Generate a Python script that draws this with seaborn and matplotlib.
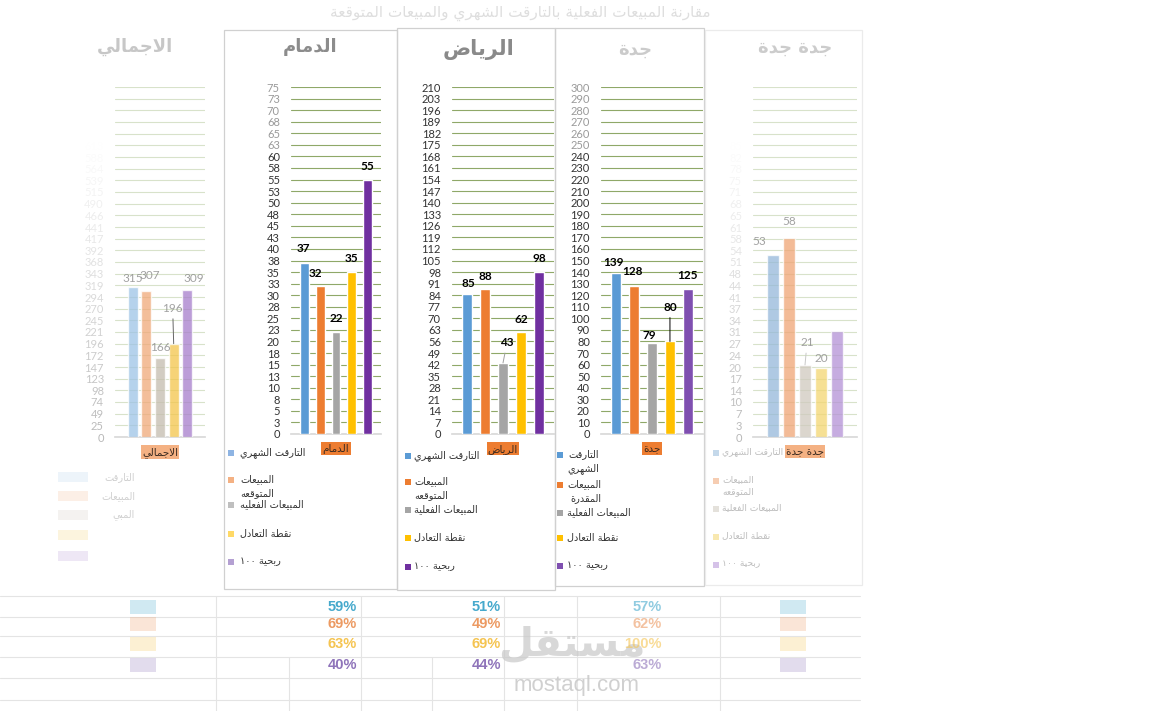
import re
import numpy as np
import pandas as pd
import matplotlib
matplotlib.use('Agg')
from matplotlib import pyplot as plt
from matplotlib.patches import Rectangle
import seaborn as sns

sns.set_theme(style='white')
plt.rcParams['font.family'] = ['Lato', 'DejaVu Sans']

# ---- data ----
series = ['التارقت الشهري', 'المبيعات المتوقعه', 'المبيعات الفعلية', 'نقطة التعادل', 'ربحية ١٠٠']

dammam_vals = [37, 32, 22, 35, 55]
riyadh_vals = [85, 88, 43, 62, 98]
jeddah_vals = [139, 128, 79, 80, 125]
total_vals = [315, 307, 166, 196, 309]
side_vals = [53, 58, 21, 20, 31]

dammam_legend = ['التارقت الشهري', 'المبيعات\nالمتوقعه', 'المبيعات الفعليه', 'نقطة التعادل', 'ربحية ١٠٠']
riyadh_legend = ['التارقت الشهري', 'المبيعات\nالمتوقعه', 'المبيعات الفعلية', 'نقطة التعادل', 'ربحية ١٠٠']
jeddah_legend = ['التارقت\nالشهري', 'المبيعات\nالمقدرة', 'المبيعات الفعلية', 'نقطة التعادل', 'ربحية ١٠٠']
side_legend = ['التارقت الشهري', 'المبيعات\nالمتوقعه', 'المبيعات الفعلية', 'نقطة التعادل', 'ربحية ١٠٠']
total_legend = ['التارقت', 'المبيعات', 'المبي']

dammam_pct = ['59%', '69%', '63%', '40%']
riyadh_pct = ['51%', '49%', '69%', '44%']
jeddah_pct = ['57%', '62%', '100%', '63%']

W, H = 1152, 711

# ---- simple arabic shaping (matplotlib has no bidi / joining) ----
AR_FORMS = {
    'ء': (0xFE80, 1), 'آ': (0xFE81, 2), 'أ': (0xFE83, 2), 'ؤ': (0xFE85, 2), 'إ': (0xFE87, 2),
    'ئ': (0xFE89, 4), 'ا': (0xFE8D, 2), 'ب': (0xFE8F, 4), 'ة': (0xFE93, 2), 'ت': (0xFE95, 4),
    'ث': (0xFE99, 4), 'ج': (0xFE9D, 4), 'ح': (0xFEA1, 4), 'خ': (0xFEA5, 4), 'د': (0xFEA9, 2),
    'ذ': (0xFEAB, 2), 'ر': (0xFEAD, 2), 'ز': (0xFEAF, 2), 'س': (0xFEB1, 4), 'ش': (0xFEB5, 4),
    'ص': (0xFEB9, 4), 'ض': (0xFEBD, 4), 'ط': (0xFEC1, 4), 'ظ': (0xFEC5, 4), 'ع': (0xFEC9, 4),
    'غ': (0xFECD, 4), 'ف': (0xFED1, 4), 'ق': (0xFED5, 4), 'ك': (0xFED9, 4), 'ل': (0xFEDD, 4),
    'م': (0xFEE1, 4), 'ن': (0xFEE5, 4), 'ه': (0xFEE9, 4), 'و': (0xFEED, 2), 'ى': (0xFEEF, 2),
    'ي': (0xFEF1, 4),
}


def shape(txt):
    out = []
    i = 0
    while i < len(txt):
        c = txt[i]
        if c not in AR_FORMS:
            out.append(c)
            i += 1
            continue
        prev = txt[i - 1] if i > 0 else ''
        jp = prev in AR_FORMS and AR_FORMS[prev][1] == 4
        if c == 'ل' and i + 1 < len(txt) and txt[i + 1] == 'ا':
            out.append(chr(0xFEFC if jp else 0xFEFB))
            i += 2
            continue
        nxt = txt[i + 1] if i + 1 < len(txt) else ''
        base, k = AR_FORMS[c]
        jn = k == 4 and nxt in AR_FORMS
        if k == 4:
            idx = {(0, 0): 0, (1, 0): 1, (0, 1): 2, (1, 1): 3}[(int(jp), int(jn))]
        elif k == 2:
            idx = 1 if jp else 0
        else:
            idx = 0
        out.append(chr(base + idx))
        i += 1
    return ''.join(out)


def ar(txt):
    lines = []
    for line in txt.split('\n'):
        s = shape(line)
        parts = re.findall(r'[0-9\u0660-\u0669%]+|[^0-9\u0660-\u0669%]+', s)
        lines.append(''.join(p if re.match(r'[0-9\u0660-\u0669]', p) else p[::-1]
                             for p in reversed(parts)))
    return '\n'.join(lines)


fig = plt.figure(figsize=(W / 100, H / 100), dpi=100)
fig.patch.set_facecolor('white')


def fx(px):
    return px / W


def fy(py):
    return 1 - py / H


def hline(y, x0, x1, color='#E4E4E4', lw=0.8):
    fig.add_artist(plt.Line2D([fx(x0), fx(x1)], [fy(y), fy(y)], color=color, lw=lw, zorder=0))


def vline(x, y0, y1, color='#E4E4E4', lw=0.8):
    fig.add_artist(plt.Line2D([fx(x), fx(x)], [fy(y0), fy(y1)], color=color, lw=lw, zorder=0))


# spreadsheet cell lines at the bottom
for y in [596, 617, 636, 657, 678, 700]:
    hline(y, 0, 860)
for x in [216, 361, 504, 577, 720]:
    vline(x, 596, 711)
for x in [289, 432]:
    vline(x, 657, 711)

# panel frames
for (x0, y0, x1, y1, c) in [(224, 30, 397, 589, '#D0D0D0'), (397, 28, 555, 590, '#D0D0D0'),
                            (555, 28, 704, 586, '#D0D0D0'), (705, 30, 862, 585, '#EBEBEB')]:
    fig.add_artist(Rectangle((fx(x0), fy(y1)), (x1 - x0) / W, (y1 - y0) / H,
                             transform=fig.transFigure, facecolor='none', edgecolor=c, lw=0.9))


def chart(box, region, vals, ymax, step, colors, offsets, leader=None, leader_color='#000000',
          fade=False, width=0.88, gap=0.44, light_top=0):
    x0, x1, y0, y1 = box
    ax = fig.add_axes([fx(x0), fy(y1), (x1 - x0) / W, (y1 - y0) / H])
    ax.set_facecolor('none')
    df = pd.DataFrame({'region': [ar(region)] * len(vals), 'series': series, 'value': vals})
    sns.barplot(data=df, x='region', y='value', hue='series', hue_order=series, palette=colors,
                saturation=1, width=width, gap=gap, errorbar=None, legend=False, ax=ax,
                alpha=0.75 if fade else 1.0, zorder=3)
    ax.set_xlim(-0.5, 0.5)
    ax.set_ylim(0, ymax)
    ticks = np.arange(0, ymax + step / 2, step)
    ax.set_yticks(ticks)
    ax.set_yticklabels([str(int(t + 0.5 + 1e-9)) for t in ticks])
    ax.set_xlabel('')
    ax.set_ylabel('')
    ax.yaxis.grid(True, color='#D8E2CA' if fade else '#8FA868', lw=0.8)
    ax.set_axisbelow(True)
    for s in ['top', 'right', 'left']:
        ax.spines[s].set_visible(False)
    ax.spines['bottom'].set_color('#D9D9D9')
    ax.tick_params(axis='y', length=0, pad=8, labelsize=8)
    ax.tick_params(axis='x', length=0, pad=7)
    n = len(ticks)
    for i, lbl in enumerate(ax.get_yticklabels()):
        if fade:
            lbl.set_color('#B0B0B0')
            lbl.set_alpha(max(0.0, 0.9 - 1.1 * i / n))
        elif i >= n - light_top:
            lbl.set_color('#9A9A9A')
        else:
            lbl.set_color('#333333')
    for lbl in ax.get_xticklabels():
        lbl.set_family('DejaVu Sans')
        lbl.set_fontsize(7.5)
        lbl.set_color('#3A2A20')
        lbl.set_bbox(dict(boxstyle='square,pad=0.12', facecolor='#ED7D31', edgecolor='none',
                          alpha=0.6 if fade else 1.0))
    for i, (cont, v) in enumerate(zip(ax.containers, vals)):
        if offsets[i] is None:
            continue
        bar = cont.patches[0]
        xc = bar.get_x() + bar.get_width() / 2
        dx, dy = offsets[i]
        props = None
        if leader is not None and i == leader:
            props = dict(arrowstyle='-', color=leader_color, lw=0.7, shrinkA=1, shrinkB=0)
        ax.annotate(str(v), xy=(xc, v), xytext=(dx * 0.72, dy * 0.72), textcoords='offset points',
                    ha='center', va='center', fontsize=8.5,
                    fontweight='normal' if fade else 'bold',
                    color='#8A8A8A' if fade else '#000000', alpha=0.8 if fade else 1.0,
                    arrowprops=props, annotation_clip=False, zorder=5)
    return ax


main_cols = ['#5B9BD5', '#ED7D31', '#A5A5A5', '#FFC000', '#7030A0']
jeddah_cols = ['#5B9BD5', '#ED7D31', '#A5A5A5', '#FFC000', '#7F4FB0']
total_cols = ['#9DC3E6', '#F0A878', '#C4BCAE', '#F3C54A', '#A67DCB']
side_cols = ['#94B8DA', '#EFA474', '#CFC9BE', '#F3D670', '#B391D6']

chart((115, 205, 87, 437), 'الاجمالي', total_vals, 735, 24.5, total_cols,
      [(0, 8), (3, 15), (0, 10), (-1, 35), (6, 11)], leader=3, leader_color='#666666',
      fade=True, width=0.76, gap=0.27)
chart((291, 381, 87, 434), 'الدمام', dammam_vals, 75, 2.5, main_cols,
      [(-1, 14), (-5, 12), (0, 14), (0, 14), (0, 13)], light_top=6)
chart((452, 554, 87, 434), 'الرياض', riyadh_vals, 210, 7, main_cols,
      [(1, 10), (0, 12), (4, 20), (0, 12), (0, 14)], leader=2, leader_color='#A0A0A0')
chart((601, 703, 87, 434), 'جدة', jeddah_vals, 300, 10, jeddah_cols,
      [(-3, 11), (-2, 14), (-3, 7), (0, 34), (0, 14)], leader=3, leader_color='#000000',
      light_top=6)
chart((753, 857, 87, 437), 'جدة جدة', side_vals, 102, 3.4, side_cols,
      [(-14, 14), (0, 16), (2, 22), (0, 10), None], leader=2, leader_color='#C8C8C8',
      fade=True, width=0.77, gap=0.3)

# titles
fig.text(fx(310), fy(47), ar('الدمام'), family='DejaVu Sans', fontsize=13, fontweight='bold',
         color='#8C8C8C', ha='center', va='center')
fig.text(fx(479), fy(50), ar('الرياض'), family='DejaVu Sans', fontsize=15, fontweight='bold',
         color='#8A8A8A', ha='center', va='center')
fig.text(fx(635), fy(50), ar('جدة'), family='DejaVu Sans', fontsize=13, fontweight='bold',
         color='#B5B5B5', ha='center', va='center', alpha=0.7)
fig.text(fx(135), fy(47), ar('الاجمالي'), family='DejaVu Sans', fontsize=13, fontweight='bold',
         color='#9A9A9A', ha='center', va='center', alpha=0.55)
fig.text(fx(795), fy(48), ar('جدة جدة'), family='DejaVu Sans', fontsize=13, fontweight='bold',
         color='#9A9A9A', ha='center', va='center', alpha=0.5)
fig.text(fx(520), fy(13), ar('مقارنة المبيعات الفعلية بالتارقت الشهري والمبيعات المتوقعة'),
         family='DejaVu Sans', fontsize=11, color='#C8C8C8', ha='center', va='center', alpha=0.6)


def legend(x_sq, ys, labels, colors, x_txt, alpha=1.0, tcolor='#333333', size=7):
    for y, lab, c in zip(ys, labels, colors):
        fig.add_artist(Rectangle((fx(x_sq - 3), fy(y + 3)), 6 / W, 6 / H, transform=fig.transFigure,
                                 facecolor=c, edgecolor='none', alpha=alpha))
        fig.text(fx(x_txt), fy(y - 6), ar(lab), family='DejaVu Sans', fontsize=size, color=tcolor,
                 ha='left', va='top', multialignment='right', linespacing=1.45, alpha=alpha)


legend(231, [453, 480, 505, 534, 562], dammam_legend,
       ['#8EB4E3', '#F4B183', '#BFBFBF', '#FFD966', '#B4A0D2'], 240)
legend(408, [456, 482, 510, 538, 567], riyadh_legend, main_cols, 414)
legend(560, [455, 485, 513, 538, 566], jeddah_legend, jeddah_cols, 567)
legend(716, [453, 481, 509, 537, 565], side_legend, side_cols, 722, alpha=0.55, tcolor='#888888',
       size=6.6)

# faded left legend fragments
for y, c in zip([477, 496, 515, 535, 556], total_cols):
    fig.add_artist(Rectangle((fx(58), fy(y + 5)), 30 / W, 10 / H, transform=fig.transFigure,
                             facecolor=c, edgecolor='none', alpha=0.18))
for y, lab in zip([477, 496, 515], total_legend):
    fig.text(fx(135), fy(y), ar(lab), family='DejaVu Sans', fontsize=7, color='#AAAAAA',
             ha='right', va='center', alpha=0.55)

# percentage table
pct_colors = ['#46A9CC', '#EC9A62', '#F5C451', '#8F74BA']
pct_rows = [607, 624, 644, 665]
for x_r, col, a in [(357, dammam_pct, 1.0), (501, riyadh_pct, 1.0), (662, jeddah_pct, 0.6)]:
    for y, v, c in zip(pct_rows, col, pct_colors):
        fig.text(fx(x_r), fy(y), v, family='Liberation Sans', fontsize=10.5, fontweight='bold',
                 color=c, ha='right', va='center', alpha=a, zorder=3)
for x_b in [130, 780]:
    for y, c in zip(pct_rows, pct_colors):
        fig.add_artist(Rectangle((fx(x_b), fy(y + 7)), 26 / W, 14 / H, transform=fig.transFigure,
                                 facecolor=c, edgecolor='none', alpha=0.25))

# watermark
fig.text(fx(572), fy(645), ar('مستقل'), family='DejaVu Sans', fontsize=29, fontweight='bold',
         color='#C8C8C8', ha='center', va='center', alpha=0.7, zorder=2)
fig.text(fx(577), fy(686), 'mostaql.com', family='Liberation Sans', fontsize=16,
         color='#C8C8C8', ha='center', va='center', alpha=0.85)

fig.savefig('out.png', dpi=100, facecolor='white')
